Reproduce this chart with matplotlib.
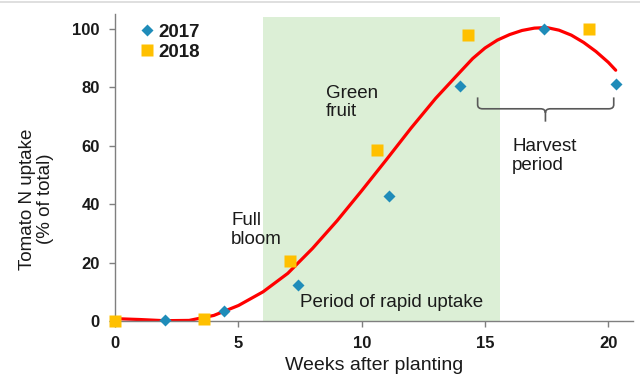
import matplotlib
matplotlib.use("Agg")
import matplotlib.pyplot as plt
from matplotlib.path import Path
from matplotlib.patches import PathPatch, Rectangle
from matplotlib.lines import Line2D

plt.rcParams['font.family'] = ['Liberation Sans', 'DejaVu Sans']

# data
weeks_2017 = [0, 2.0, 4.4, 7.4, 11.1, 14.0, 17.4, 20.3]
uptake_2017 = [0, 0.2, 3.3, 12.4, 42.6, 80.4, 100, 81]
weeks_2018 = [0, 3.6, 7.1, 10.6, 14.3, 19.2]
uptake_2018 = [0, 0.8, 20.4, 58.4, 97.9, 100]
trend_weeks = [0, 1, 2, 3, 4, 5, 6, 7, 8, 9, 10, 11, 12, 13, 14, 14.5, 15, 15.5, 16, 16.5,
               17, 17.5, 18, 18.5, 19, 19.5, 20, 20.3]
trend_vals = [0.8, 0.5, 0.1, 0.2, 1.9, 5.3, 10.0, 16.3, 24.8, 34.3, 44.6, 55.2, 66.0, 76.2,
              85.3, 89.8, 93.4, 96.1, 98.0, 99.4, 100.2, 100.4, 99.5, 97.8, 95.3, 92.2, 88.5, 85.8]
rapid_start, rapid_end = 6.0, 15.6
x_ticks = [0, 5, 10, 15, 20]
y_ticks = [0, 20, 40, 60, 80, 100]

fig = plt.figure(figsize=(6.4, 3.81), dpi=100)
ax = fig.add_axes([0.18, 0.1575, 0.809, 0.8055])

ax.add_patch(Rectangle((rapid_start, 0), rapid_end - rapid_start, 104,
                       facecolor='#dcefd6', edgecolor='none', zorder=0))

ax.plot(trend_weeks, trend_vals, color='#ff0000', lw=2.3, zorder=2,
        solid_capstyle='round', solid_joinstyle='round')
ax.plot(weeks_2017, uptake_2017, linestyle='none', marker='D', ms=6.5,
        color='#1f8cb9', mec='none', zorder=3, clip_on=False, label='2017')
ax.plot(weeks_2018, uptake_2018, linestyle='none', marker='s', ms=8,
        color='#ffc000', mec='none', zorder=3, clip_on=False, label='2018')

ax.set_xlim(0, 21)
ax.set_ylim(0, 105)
ax.set_xticks(x_ticks)
ax.set_yticks(y_ticks)
for s in ['top', 'right']:
    ax.spines[s].set_visible(False)
for s in ['left', 'bottom']:
    ax.spines[s].set_color('#7f7f7f')
    ax.spines[s].set_linewidth(1.0)
ax.tick_params(axis='both', length=4, width=1, color='#7f7f7f', pad=7,
               labelsize=12, labelcolor='#1a1a1a')
for lbl in ax.get_xticklabels() + ax.get_yticklabels():
    lbl.set_fontweight('bold')

ax.set_xlabel('Weeks after planting', fontsize=14, color='#1a1a1a', labelpad=4)
ax.set_ylabel('Tomato N uptake\n(% of total)', fontsize=13.5, color='#1a1a1a',
              linespacing=1.1)
ax.yaxis.set_label_coords(-0.118, 0.397)

txt_kw = dict(fontsize=13.5, color='#1a1a1a', linespacing=1.12, zorder=4)
ax.text(4.7, 37.2, 'Full\nbloom', ha='left', va='top', **txt_kw)
ax.text(8.55, 80.8, 'Green\nfruit', ha='left', va='top', **txt_kw)
ax.text(16.1, 62.6, 'Harvest\nperiod', ha='left', va='top', **txt_kw)
ax.text(7.5, 4.8, 'Period of rapid uptake', ha='left', va='baseline', **txt_kw)

# harvest brace
xl, xr, xc = 14.7, 20.22, 17.45
yb, yt, ytip = 72.6, 76.5, 68.2
verts = [(xl, yt), (xl, 74.0), (xl, yb), (xl + 0.2, yb), (xc - 0.2, yb), (xc, yb), (xc, 71.2), (xc, ytip),
         (xc, 71.2), (xc, yb), (xc + 0.2, yb), (xr - 0.2, yb), (xr, yb), (xr, 74.0), (xr, yt)]
codes = [Path.MOVETO, Path.LINETO, Path.CURVE3, Path.CURVE3, Path.LINETO, Path.CURVE3, Path.CURVE3, Path.LINETO,
         Path.MOVETO, Path.CURVE3, Path.CURVE3, Path.LINETO, Path.CURVE3, Path.CURVE3, Path.LINETO]
ax.add_patch(PathPatch(Path(verts, codes), facecolor='none', edgecolor='#595959', lw=1.2, zorder=4))

leg = ax.legend(loc='upper left', bbox_to_anchor=(0.023, 1.012), frameon=False,
                handlelength=0.7, handletextpad=0.25, labelspacing=0.15,
                borderpad=0.2, prop={'size': 13.5, 'weight': 'bold'})
for t in leg.get_texts():
    t.set_color('#1a1a1a')

fig.add_artist(Line2D([0, 1], [0.996, 0.996], color='#d9d9d9', lw=1.2))

fig.savefig('out.png', dpi=100)
